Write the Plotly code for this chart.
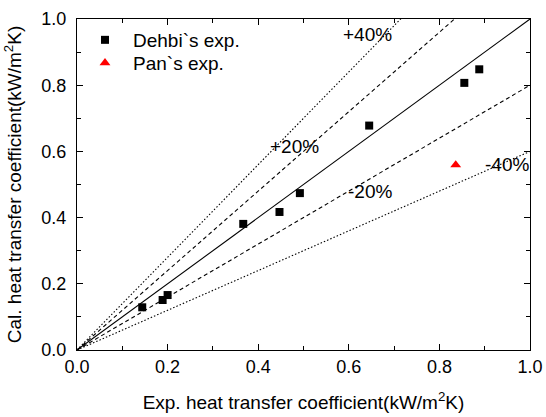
import plotly.graph_objects as go

# Data
dehbi_exp = [0.144, 0.189, 0.200, 0.367, 0.447, 0.492, 0.645, 0.855, 0.888]
dehbi_cal = [0.129, 0.151, 0.166, 0.381, 0.417, 0.474, 0.678, 0.807, 0.848]
pan_exp = [0.836]
pan_cal = [0.559]

# Deviation reference lines (ratio of calculated to experimental)
line_factors = [1.0, 1.2, 0.8, 1.4, 0.6]
line_dashes = ["solid", "4px,3px", "4px,3px", "1.5px,2px", "1.5px,2px"]
line_x = [0.0, 1.0]

label_texts = ["+40%", "+20%", "-20%", "-40%"]
label_x = [0.642, 0.481, 0.647, 0.949]
label_y = [0.952, 0.614, 0.478, 0.559]

FONT = "Arial, Liberation Sans, sans-serif"

fig = go.Figure()

for k, d in zip(line_factors, line_dashes):
    fig.add_trace(go.Scatter(
        x=line_x, y=[k * v for v in line_x], mode="lines",
        line=dict(color="black", width=1.1, dash=d),
        showlegend=False, hoverinfo="skip"))

fig.add_trace(go.Scatter(
    x=dehbi_exp, y=dehbi_cal, mode="markers", name="Dehbi`s exp.",
    marker=dict(symbol="square", size=8, color="black"), legend="legend"))
fig.add_trace(go.Scatter(
    x=pan_exp, y=pan_cal, mode="markers", name="Pan`s exp.",
    marker=dict(symbol="triangle-up", size=9.5, color="red"), legend="legend2"))

for t, x, y in zip(label_texts, label_x, label_y):
    fig.add_annotation(x=x, y=y, xref="x", yref="y", text=t, showarrow=False,
                       font=dict(family=FONT, size=19, color="black"))

axis_common = dict(
    range=[0, 1], dtick=0.2, tickformat=".1f",
    showline=True, linecolor="black", linewidth=1.3, mirror="ticks",
    ticks="inside", ticklen=6, tickwidth=1, tickcolor="black",
    minor=dict(ticks="inside", ticklen=4, dtick=0.1, tickcolor="black", tickwidth=1),
    showgrid=False, zeroline=False,
    tickfont=dict(family=FONT, size=18, color="black"),
)

fig.update_xaxes(**axis_common,
                 title=dict(text="Exp. heat transfer coefficient(kW/m<sup>2</sup>K)",
                            font=dict(family=FONT, size=19, color="black"), standoff=19))
fig.update_yaxes(**axis_common, ticklabelstandoff=6,
                 title=dict(text="Cal. heat transfer coefficient(kW/m<sup>2</sup>K)",
                            font=dict(family=FONT, size=19, color="black"), standoff=14))

legend_common = dict(xanchor="left", yanchor="middle", bgcolor="rgba(0,0,0,0)",
                     itemwidth=46, font=dict(family=FONT, size=19, color="black"))

fig.update_layout(
    width=546, height=417,
    margin=dict(l=77, r=16, t=19, b=67, autoexpand=False),
    plot_bgcolor="white", paper_bgcolor="white",
    legend=dict(x=0.0, y=0.9366, **legend_common),
    legend2=dict(x=0.0, y=0.867, **legend_common),
)

fig.write_html("out.html", config={"displayModeBar": False},
               post_script="document.body.style.margin='0px';")
